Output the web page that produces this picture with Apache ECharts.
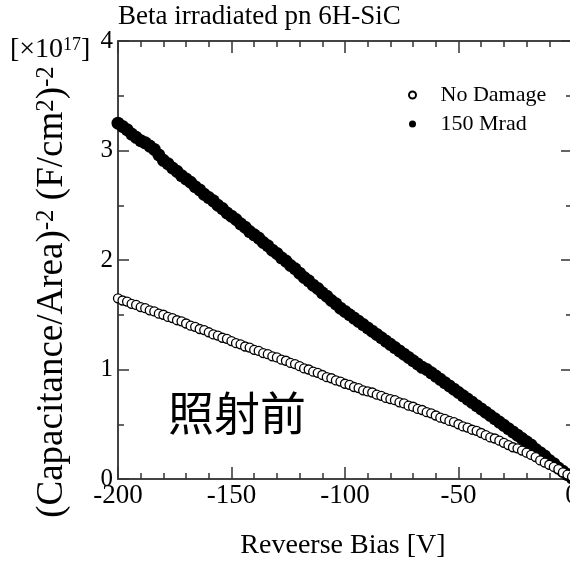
<!DOCTYPE html>
<html>
<head>
<meta charset="utf-8">
<script src="https://cdn.jsdelivr.net/npm/echarts@6/dist/echarts.min.js"></script>
<style>
html,body{margin:0;padding:0;background:#fff;}
#chart{width:570px;height:565px;}
</style>
</head>
<body>
<div id="chart"></div>
<script>
// Reverse bias voltage [V]
const biasV = [
-200,-198,-196,-194,-192,-190,-188,-186,-184,-182,
-180,-178,-176,-174,-172,-170,-168,-166,-164,-162,
-160,-158,-156,-154,-152,-150,-148,-146,-144,-142,
-140,-138,-136,-134,-132,-130,-128,-126,-124,-122,
-120,-118,-116,-114,-112,-110,-108,-106,-104,-102,
-100,-98,-96,-94,-92,-90,-88,-86,-84,-82,
-80,-78,-76,-74,-72,-70,-68,-66,-64,-62,
-60,-58,-56,-54,-52,-50,-48,-46,-44,-42,
-40,-38,-36,-34,-32,-30,-28,-26,-24,-22,
-20,-18,-16,-14,-12,-10,-8,-6,-4,-2,0];

// (C/A)^-2 in units of 1e17 (F/cm^2)^-2 — No Damage
const noDamage = [
1.65,1.63,1.62,1.60,1.59,1.57,1.56,1.54,1.53,1.51,
1.50,1.48,1.47,1.45,1.44,1.42,1.40,1.39,1.37,1.36,
1.34,1.32,1.31,1.29,1.28,1.26,1.24,1.23,1.21,1.20,
1.18,1.17,1.15,1.14,1.12,1.11,1.09,1.08,1.06,1.05,
1.03,1.01,1.00,0.98,0.97,0.95,0.93,0.92,0.90,0.89,
0.87,0.86,0.84,0.83,0.81,0.80,0.79,0.77,0.76,0.74,
0.73,0.72,0.70,0.69,0.67,0.66,0.64,0.63,0.61,0.60,
0.58,0.56,0.55,0.53,0.52,0.50,0.48,0.47,0.45,0.44,
0.42,0.40,0.38,0.37,0.35,0.33,0.31,0.29,0.28,0.26,
0.24,0.22,0.20,0.17,0.15,0.13,0.11,0.09,0.06,0.04,0.02];

// 150 Mrad
const mrad150 = [
3.25,3.22,3.19,3.15,3.12,3.09,3.07,3.04,3.01,2.96,
2.91,2.88,2.84,2.81,2.77,2.74,2.71,2.67,2.64,2.60,
2.57,2.54,2.50,2.47,2.43,2.40,2.37,2.33,2.30,2.26,
2.23,2.20,2.16,2.13,2.09,2.06,2.02,1.99,1.95,1.92,
1.88,1.84,1.81,1.77,1.74,1.70,1.67,1.63,1.60,1.56,
1.53,1.50,1.47,1.44,1.41,1.38,1.35,1.32,1.29,1.26,
1.23,1.20,1.17,1.14,1.11,1.08,1.05,1.02,1.00,0.97,
0.94,0.91,0.88,0.85,0.82,0.79,0.76,0.73,0.70,0.67,
0.64,0.61,0.58,0.55,0.52,0.49,0.46,0.43,0.40,0.37,
0.34,0.31,0.27,0.24,0.21,0.17,0.14,0.10,0.07,0.04,0.01];

const xTickLabels = ['-200','-150','-100','-50','0'];
const yTickLabels = ['0','1','2','3','4'];
const seriesNames = ['No Damage','150 Mrad'];

const serif = "'Liberation Serif','Times New Roman',serif";
const axisColor = '#444';

function pairs(xs, ys){ return xs.map((x,i)=>[x, ys[i]]); }

const chart = echarts.init(document.getElementById('chart'), null, {renderer:'canvas'});

const xCommon = {
  type:'value', min:-200, max:0, interval:50,
  axisLine:{show:true, onZero:false, lineStyle:{color:axisColor, width:2}},
  axisTick:{show:true, inside:true, length:12, lineStyle:{color:'#333', width:1.5}},
  minorTick:{show:true, splitNumber:5, length:6, lineStyle:{color:'#333', width:1.5}},
  splitLine:{show:false}, minorSplitLine:{show:false}
};
const yCommon = {
  type:'value', min:0, max:4, interval:1,
  axisLine:{show:true, onZero:false, lineStyle:{color:axisColor, width:2}},
  axisTick:{show:true, inside:true, length:11, lineStyle:{color:'#333', width:1.5}},
  minorTick:{show:true, splitNumber:2, length:6, lineStyle:{color:'#333', width:1.5}},
  splitLine:{show:false}, minorSplitLine:{show:false}
};

const option = {
  animation:false,
  backgroundColor:'#fff',
  grid:{left:118, top:41, width:454, height:438, containLabel:false, outerBoundsMode:'none'},
  xAxis:[
    Object.assign({}, xCommon, {position:'bottom',
      axisLabel:{show:true, margin:3, color:'#000', fontFamily:serif, fontSize:27,
        formatter:(v)=>xTickLabels[Math.round((v+200)/50)]}}),
    Object.assign({}, xCommon, {position:'top', axisLabel:{show:false}})
  ],
  yAxis:[
    Object.assign({}, yCommon, {position:'left',
      axisLabel:{show:true, margin:5, color:'#000', fontFamily:serif, fontSize:25,
        formatter:(v)=>yTickLabels[Math.round(v)]}}),
    Object.assign({}, yCommon, {position:'right', axisLabel:{show:false}})
  ],
  legend:{
    orient:'vertical', left:408, top:84, padding:0, itemGap:7,
    itemWidth:46, itemHeight:7, symbolKeepAspect:true,
    data:[seriesNames[0], seriesNames[1]],
    textStyle:{fontFamily:serif, fontSize:22, color:'#000'}
  },
  series:[
    {name:seriesNames[1], type:'scatter', xAxisIndex:0, yAxisIndex:0,
     data:pairs(biasV, mrad150), symbol:'circle', symbolSize:13,
     itemStyle:{color:'#000', opacity:1}, silent:true},
    {name:seriesNames[0], type:'scatter', xAxisIndex:0, yAxisIndex:0,
     data:pairs(biasV, noDamage), symbol:'circle', symbolSize:9,
     itemStyle:{color:'#fff', borderColor:'#000', borderWidth:1.3, opacity:1}, silent:true}
  ],
  graphic:[
    {type:'text', left:118, top:3, style:{text:'Beta irradiated pn 6H-SiC', fontFamily:serif, fontSize:27, fill:'#000'}},
    {type:'text', x:10, y:50, style:{
      text:'{m|[×10}{s|17}{m|]}', textVerticalAlign:'middle', textAlign:'left',
      rich:{m:{fontFamily:serif, fontSize:28, fill:'#000'}, s:{fontFamily:serif, fontSize:18, fill:'#000', verticalAlign:'top'}}
    }},
    {type:'text', x:52, y:292, rotation:Math.PI/2, style:{
      text:'{m|(Capacitance/Area)}{s|-2}{m| (F/cm}{s|2}{m|)}{s|-2}',
      textAlign:'center', textVerticalAlign:'middle',
      rich:{m:{fontFamily:serif, fontSize:37, fill:'#000'}, s:{fontFamily:serif, fontSize:25, fill:'#000', verticalAlign:'top'}}
    }},
    {type:'text', x:343, y:546, style:{text:'Reveerse Bias [V]', fontFamily:serif, fontSize:28, fill:'#000', textAlign:'center', textVerticalAlign:'middle'}},
    {type:'text', x:237, y:413, style:{text:'照射前', fontFamily:"'Noto Sans CJK SC','Noto Sans CJK JP',sans-serif", fontSize:46, fill:'#000', textAlign:'center', textVerticalAlign:'middle'}}
  ]
};
chart.setOption(option);
</script>
</body>
</html>
